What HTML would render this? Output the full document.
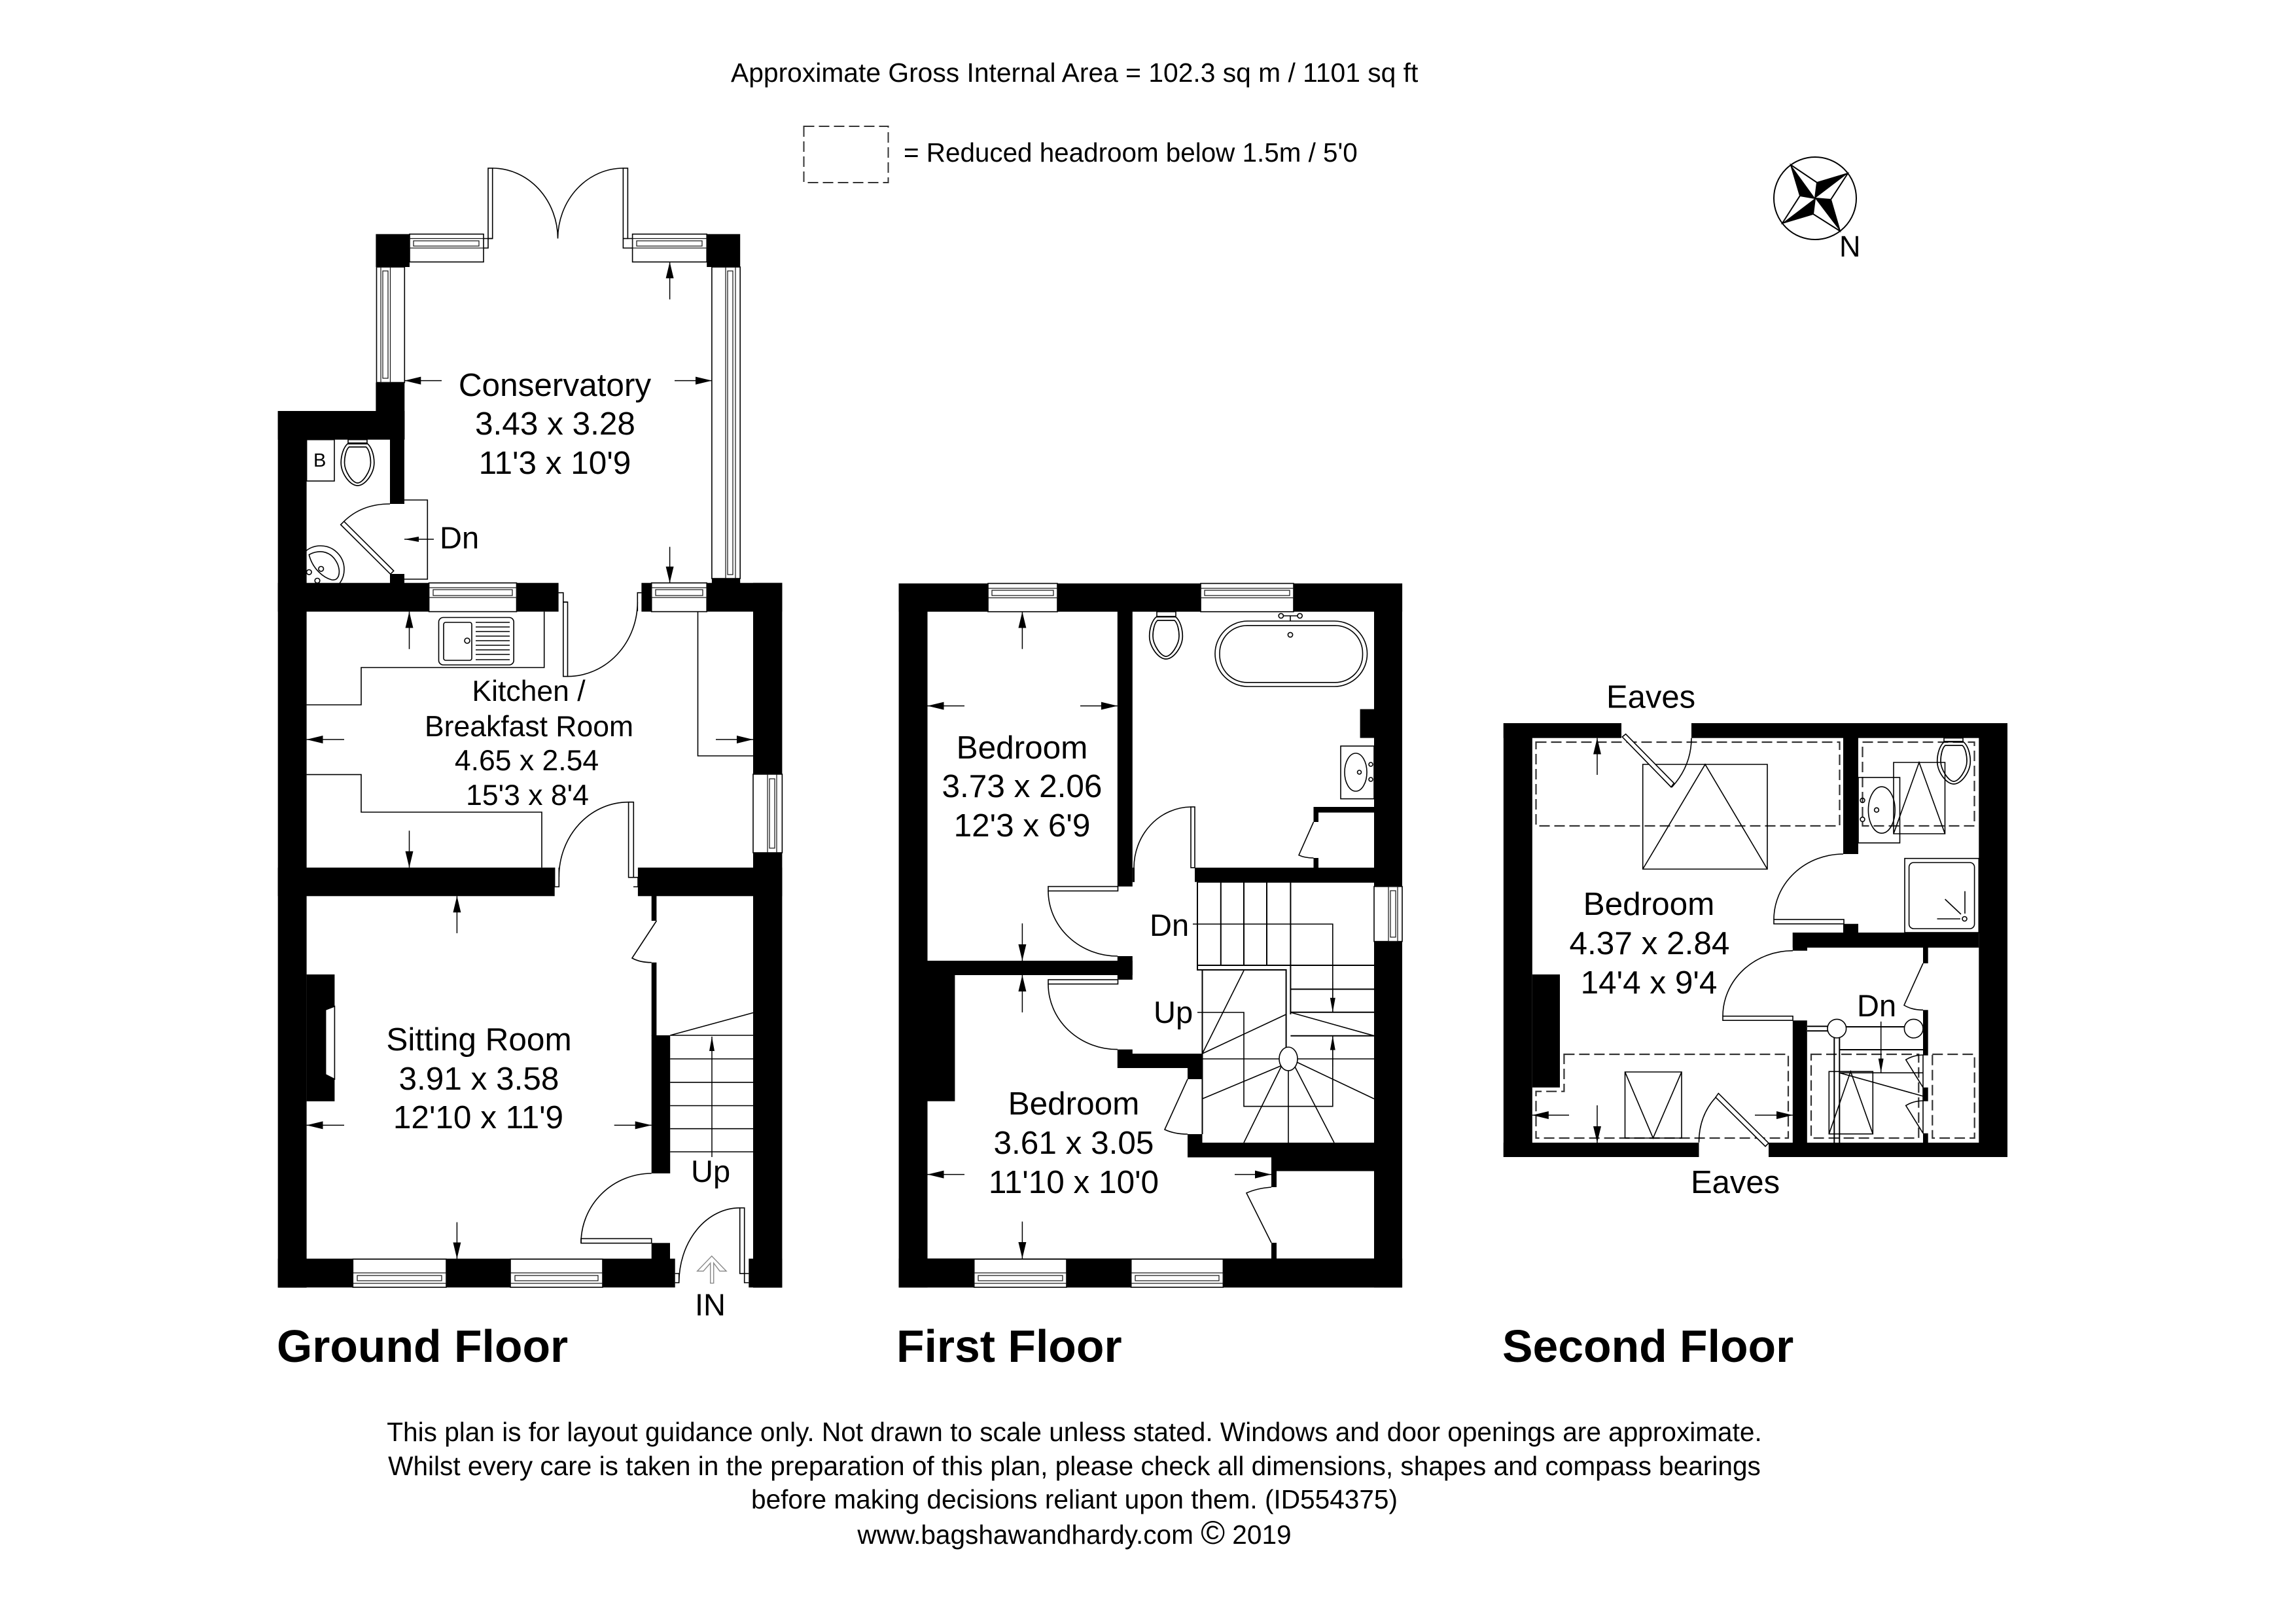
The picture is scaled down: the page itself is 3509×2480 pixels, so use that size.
<!DOCTYPE html>
<html><head><meta charset="utf-8"><title>Floor plan</title>
<style>
html,body{margin:0;padding:0;background:#fff}
svg{display:block}
text{font-family:"Liberation Sans",Arial,sans-serif;fill:#000}
.m{text-anchor:middle}
.n{fill:none;stroke:#000;stroke-width:1.6}
.i{fill:none;stroke:#111;stroke-width:1.2}
.w{fill:#fff;stroke:#000;stroke-width:1.6}
.d{fill:none;stroke:#333;stroke-width:2.2;stroke-dasharray:16 7}
.b{fill:#000}
.ar line,line.ar{stroke:#000;stroke-width:1.5;marker-end:url(#a)}
line.sa{stroke:#000;stroke-width:1.5;marker-end:url(#s)}
</style></head><body>
<svg xmlns="http://www.w3.org/2000/svg" width="3509" height="2480" viewBox="0 0 3509 2480">
<defs>
<marker id="a" markerUnits="userSpaceOnUse" markerWidth="26" markerHeight="14" refX="25" refY="6" orient="auto"><path d="M0 0L25 6L0 12z"/></marker>
<marker id="s" markerUnits="userSpaceOnUse" markerWidth="23" markerHeight="10" refX="22" refY="4" orient="auto"><path d="M0 0L22 4L0 8z"/></marker>
<g id="t" fill="none" stroke="#000" stroke-width="1.7">
<path d="M-14 0H14C22 6 25.3 20 25.3 30C25.3 46 12 65 0 65C-12 65 -25.3 46 -25.3 30C-25.3 20 -22 6 -14 0Z"/>
<path d="M-13 6H13C18 10 20 22 20 30C20 43 8 61 0 61C-8 61 -20 43 -20 30C-20 22 -18 10 -13 6Z"/>
</g>
</defs>
<rect width="3509" height="2480" fill="#fff"/>

<!-- header -->
<text x="1117" y="125" font-size="40.8">Approximate Gross Internal Area = 102.3 sq m / 1101 sq ft</text>
<rect x="1228.5" y="193" width="129" height="86" class="d" style="stroke-width:2"/>
<text x="1381" y="247" font-size="40.4">= Reduced headroom below 1.5m / 5'0</text>

<!-- compass -->
<circle cx="2774" cy="303" r="63" class="n" style="stroke-width:2"/>
<path d="M2737 252L2777 279L2774 303L2751 299ZM2824 265L2798 305L2774 303L2777 279ZM2812 353L2771 327L2774 303L2798 305ZM2724 341L2751 299L2774 303L2771 327Z" class="n" style="stroke-width:2"/>
<path class="b" d="M2737 252L2751 299L2774 303ZM2824 265L2777 279L2774 303ZM2812 353L2798 305L2774 303ZM2724 341L2771 327L2774 303Z"/>
<text x="2811" y="392" font-size="45">N</text>

<!-- ========== GROUND FLOOR ========== -->
<!-- fixtures -->
<ellipse cx="490" cy="870" rx="36" ry="36" class="n"/>
<path d="M472.3 847.7C483 841 505 838 516 862C521 875 518 888 507 886C495 883 478 870 472.3 847.7Z" class="n"/>
<circle cx="472.3" cy="874.3" r="3.8" class="n"/><circle cx="490.7" cy="869.3" r="3.8" class="n"/><circle cx="485" cy="887.3" r="3.8" class="n"/>
<rect x="468.6" y="671.8" width="42.4" height="63.2" class="n"/>
<text x="479" y="713" font-size="29">B</text>
<rect x="532" y="671.8" width="29" height="6.5" class="n"/>
<use href="#t" transform="translate(546.5,677)"/>
<path class="n" d="M618 764H653.3V885H618"/>
<line class="sa" x1="663" y1="824" x2="618" y2="824"/>
<path class="w" d="M520.7 801.7L525.7 796.7L601.7 872.3L596.7 877.3Z"/>
<path class="n" d="M525.7 796.7Q553 770 596 770"/>
<!-- conservatory doors -->
<rect x="746" y="257" width="6.7" height="107.5" class="w"/>
<rect x="952.4" y="257" width="7" height="107.5" class="w"/>
<path class="n" d="M752.7 257A100 108 0 0 1 852.5 364.5A100 108 0 0 1 952.4 257"/>
<path class="n" d="M739 364.5H752.7M746 364.5V379H739M959.5 364.5H966.6M952.4 364.5V379H966.6"/>
<!-- kitchen units -->
<path class="n" d="M831.7 934.6V1020H552V1077H468.6M468.6 1183.6H552V1241H828V1325.7M1066.5 934.6V1155H1151"/>
<rect x="670.5" y="943.5" width="114.7" height="72.5" rx="7" class="n"/>
<rect x="678" y="951" width="43" height="58" rx="3" class="n"/>
<circle cx="714" cy="979" r="4" class="n"/>
<path class="n" d="M727 951H779M727 958H779M727 965H779M727 972H779M727 979H779M727 986H779M727 993H779M727 1000H779M727 1008H779"/>
<!-- kitchen doors -->
<rect x="860.8" y="920" width="6.7" height="113.6" class="w"/>
<path class="n" d="M867.5 1033.6A107 113.6 0 0 0 974.3 920"/>
<path class="n" d="M853.6 905.7H860.8V920H867.5M980.4 905.7H974.3V934"/>
<rect x="960.6" y="1225.7" width="7.7" height="115" class="w"/>
<path class="n" d="M960.6 1225.7H968M960.6 1225.7A106 114 0 0 0 854.3 1340"/>
<path class="n" d="M847.6 1325.7V1355H854.3V1325.7M968.3 1340.7H975V1355H968"/>
<!-- stairs -->
<path class="n" d="M1024.2 1582H1151M1024.2 1618H1151M1024.2 1653.8H1151M1024.2 1689.5H1151M1024.2 1724.7H1151M1024.2 1760H1151M1024.2 1582L1151 1547.5"/>
<line x1="1088" y1="1768" x2="1088" y2="1584" class="sa"/>
<path class="n" d="M1003.4 1407L966 1464Q978 1470.7 995.7 1470.7"/>
<!-- walls -->
<g class="b">
<rect x="424.7" y="628" width="43.9" height="1339.6"/>
<rect x="424.7" y="628" width="193.6" height="43.8"/>
<rect x="574.4" y="584.5" width="43.9" height="87"/>
<rect x="596" y="671" width="22" height="99"/>
<rect x="596" y="877" width="22" height="15"/>
<rect x="424.7" y="890.7" width="231" height="43.9"/>
<rect x="789.5" y="890.7" width="64.1" height="43.9"/>
<rect x="980.4" y="890.7" width="15.3" height="43.9"/>
<rect x="1080.2" y="890.7" width="115.2" height="43.9"/>
<rect x="1151" y="890.7" width="44.4" height="292.2"/>
<rect x="1151" y="1302.9" width="44.4" height="664.7"/>
<rect x="424.7" y="1325.7" width="423" height="43.6"/>
<rect x="974.9" y="1325.7" width="220.5" height="43.6"/>
<rect x="574.4" y="357.7" width="51.6" height="50.3"/>
<rect x="1080.2" y="357.7" width="51" height="50.3"/>
<rect x="1087.9" y="884" width="43.3" height="8"/>
<rect x="468.6" y="1489" width="42.8" height="193.8"/>
<rect x="995.7" y="1369" width="7.7" height="38"/>
<rect x="995.7" y="1470.7" width="7.7" height="112"/>
<rect x="995.7" y="1582" width="28.5" height="211"/>
<rect x="995.7" y="1899.3" width="28.3" height="25"/>
<rect x="424.7" y="1923.3" width="607" height="44"/>
<rect x="1144.3" y="1923.3" width="51" height="44"/>
</g>
<path class="w" d="M497.6 1543L511.4 1537.7V1649L497.6 1642Z"/>
<!-- ground windows -->
<rect x="626" y="357.7" width="113" height="42.6" class="w"/><rect x="626" y="364.5" width="113" height="14.5" class="i"/><rect x="632" y="368" width="100" height="8" class="i"/>
<rect x="966.6" y="357.7" width="113.6" height="42.6" class="w"/><rect x="966.6" y="364.5" width="113.6" height="14.5" class="i"/><rect x="973" y="368" width="100" height="8" class="i"/>
<rect x="575.5" y="408" width="42.8" height="176.5" class="w"/><rect x="582" y="408" width="14.5" height="176.5" class="i"/><rect x="585" y="414" width="8" height="164" class="i"/>
<rect x="1087.9" y="408" width="43.3" height="476" class="w"/><rect x="1109" y="408" width="15" height="476" class="i"/><rect x="1112" y="414" width="8" height="464" class="i"/>
<rect x="655.6" y="890.7" width="133.9" height="43.9" class="w"/><rect x="655.6" y="898" width="133.9" height="15" class="i"/><rect x="662" y="901" width="121" height="9" class="i"/>
<rect x="995.7" y="890.7" width="84.5" height="43.9" class="w"/><rect x="995.7" y="898" width="84.5" height="15" class="i"/><rect x="1002" y="901" width="72" height="9" class="i"/>
<rect x="1151" y="1183" width="44.4" height="120" class="w"/><rect x="1173" y="1183" width="14" height="120" class="i"/><rect x="1176" y="1190" width="8" height="106" class="i"/>
<rect x="539.3" y="1924" width="142.7" height="43" class="w"/><rect x="539.3" y="1945" width="142.7" height="16" class="i"/><rect x="546" y="1949" width="129" height="8" class="i"/>
<rect x="780" y="1924" width="141" height="43" class="w"/><rect x="780" y="1945" width="141" height="16" class="i"/><rect x="787" y="1949" width="127" height="8" class="i"/>
<!-- ground doors bottom -->
<rect x="888" y="1892.6" width="107.7" height="7" class="w"/>
<path class="n" d="M888 1899A108 106 0 0 1 995.7 1793"/>
<rect x="1130.7" y="1845.7" width="7" height="100.3" class="w"/>
<path class="n" d="M1130.7 1845.7A93 114 0 0 0 1037.7 1960"/>
<path class="n" d="M1031.7 1946H1037.7V1960H1031.7M1137.7 1946H1144.3M1137.7 1946V1960H1144.3"/>
<path d="M1087.7 1919.3L1065.7 1942.3H1075L1085.7 1930V1960.7H1090.7V1930L1100 1942.3H1110Z" fill="none" stroke="#888" stroke-width="1.4"/>
<!-- ground arrows -->
<g class="ar">
<line x1="675" y1="581.6" x2="618.3" y2="581.6"/>
<line x1="1031" y1="581.6" x2="1088" y2="581.6"/>
<line x1="1023.6" y1="457.5" x2="1023.6" y2="400.3"/>
<line x1="1023.6" y1="835.6" x2="1023.6" y2="890.7"/>
<line x1="625.5" y1="991.8" x2="625.5" y2="934.6"/>
<line x1="625.5" y1="1269.3" x2="625.5" y2="1325.7"/>
<line x1="526" y1="1130" x2="468.6" y2="1130"/>
<line x1="1094" y1="1130" x2="1151" y2="1130"/>
<line x1="698.4" y1="1426" x2="698.4" y2="1369.3"/>
<line x1="698.4" y1="1867.6" x2="698.4" y2="1923.4"/>
<line x1="526" y1="1719.4" x2="468.6" y2="1719.4"/>
<line x1="938.7" y1="1719.4" x2="995.7" y2="1719.4"/>
</g>
<!-- ground text -->
<g font-size="49.5">
<text class="m" x="848" y="605">Conservatory</text>
<text class="m" x="848.5" y="664">3.43 x 3.28</text>
<text class="m" x="848" y="724">11'3 x 10'9</text>
<text class="m" x="732" y="1605">Sitting Room</text>
<text class="m" x="732" y="1665">3.91 x 3.58</text>
<text class="m" x="731" y="1724">12'10 x 11'9</text>
</g>
<g font-size="44.5">
<text class="m" x="808" y="1071">Kitchen /</text>
<text class="m" x="808.5" y="1125">Breakfast Room</text>
<text class="m" x="805" y="1177">4.65 x 2.54</text>
<text class="m" x="806" y="1230">15'3 x 8'4</text>
</g>
<g font-size="47">
<text x="672" y="838">Dn</text>
<text x="1056" y="1806">Up</text>
<text x="1062" y="2010">IN</text>
</g>
<g font-size="69.7" font-weight="700">
<text x="423" y="2081">Ground Floor</text>
<text x="1370" y="2081">First Floor</text>
<text x="2296" y="2081">Second Floor</text>
</g>

<!-- ========== FIRST FLOOR ========== -->
<!-- stairs -->
<path class="n" d="M1830 1347.7V1482H1965.6V1609M1830 1347.7H2100M1865.8 1347.7V1475M1901 1347.7V1475M1936 1347.7V1475M1972.4 1347.7V1550M1830 1475H2100M1972.4 1511.5H2100M1972.4 1546.7H2100M1972.4 1582.7H2100M1837.5 1482V1733" style="stroke-width:2"/>
<path class="n" d="M1837.5 1610L1901 1483M1837.5 1610L1965.6 1550M1972.4 1547L2100 1582.7M1837.5 1618H1955M1983 1618H2100M1837.5 1679L1958 1628.5M1901 1746L1958 1630M1969 1636V1746M1979 1630L2039 1746M1982 1623L2100 1679"/>
<ellipse cx="1969" cy="1618" rx="14" ry="18" class="w"/>
<path class="n" d="M1823 1412H2036.8V1546.7M1830 1547H1901V1690.6H2036.8V1584"/>
<line class="sa" x1="2036.8" y1="1500" x2="2036.8" y2="1546.7"/>
<line class="sa" x1="2036.8" y1="1630" x2="2036.8" y2="1582.7"/>
<!-- fixtures -->
<rect x="1768" y="934.7" width="29" height="8" class="n"/>
<use href="#t" transform="translate(1782,942)"/>
<rect x="1857" y="949" width="232.5" height="100" rx="50" class="n"/>
<rect x="1864" y="955.8" width="218.5" height="87" rx="42" class="n"/>
<circle cx="1957.8" cy="941" r="3.6" class="n"/><circle cx="1986.6" cy="941" r="3.6" class="n"/>
<path class="n" d="M1961 941H1983M1972 941V949"/>
<circle cx="1972" cy="970" r="3.6" class="n"/>
<rect x="2049" y="1140" width="51" height="80.6" class="n"/>
<ellipse cx="2072" cy="1180" rx="17" ry="29" class="n"/>
<circle cx="2077.5" cy="1180" r="3" class="n"/><circle cx="2095" cy="1168" r="3" class="n"/><circle cx="2095" cy="1191" r="3" class="n"/>
<!-- walls first -->
<g class="b">
<rect x="1373.6" y="891.5" width="769.5" height="43.2"/>
<rect x="1373.6" y="891.5" width="43.9" height="1075.9"/>
<rect x="2100" y="891.5" width="43" height="463"/>
<rect x="2100" y="1438.7" width="43" height="528.7"/>
<rect x="1707.8" y="934" width="23" height="420.6"/>
<rect x="1730.8" y="1325.8" width="3.2" height="22"/>
<rect x="1826" y="1325.8" width="274" height="21.9"/>
<rect x="1417" y="1468" width="313.8" height="22"/>
<rect x="1707.8" y="1461" width="23" height="36"/>
<rect x="1417" y="1489" width="42.4" height="193.7"/>
<rect x="1707.8" y="1603.6" width="23" height="28.4"/>
<rect x="1730" y="1610" width="107.5" height="22"/>
<rect x="1815" y="1630" width="22.5" height="19"/>
<rect x="1815" y="1733" width="22.5" height="14"/>
<rect x="1815" y="1746" width="285" height="22.5"/>
<rect x="1943" y="1768" width="157" height="21.5"/>
<rect x="1943" y="1789" width="8" height="25"/>
<rect x="1943" y="1899" width="8" height="25"/>
<rect x="1373.6" y="1923" width="769.5" height="44.4"/>
<rect x="2078.6" y="1083.6" width="21.4" height="44"/>
<rect x="2007.5" y="1233" width="7.5" height="23"/>
<rect x="2007.5" y="1233" width="92.5" height="8.6"/>
<rect x="2007.5" y="1311" width="7.5" height="15"/>
</g>
<!-- first windows -->
<rect x="1510" y="891.5" width="106" height="43.2" class="w"/><rect x="1510" y="899" width="106" height="14.5" class="i"/><rect x="1516" y="902" width="94" height="8" class="i"/>
<rect x="1835" y="891.5" width="142" height="43.2" class="w"/><rect x="1835" y="899" width="142" height="14.5" class="i"/><rect x="1841" y="902" width="130" height="8" class="i"/>
<rect x="2100" y="1354.6" width="43" height="84" class="w"/><rect x="2122" y="1354.6" width="14" height="84" class="i"/><rect x="2125" y="1361" width="8" height="71" class="i"/>
<rect x="1488.7" y="1924" width="141.3" height="43" class="w"/><rect x="1488.7" y="1945" width="141.3" height="16" class="i"/><rect x="1495" y="1949" width="129" height="8" class="i"/>
<rect x="1728.7" y="1924" width="140.7" height="43" class="w"/><rect x="1728.7" y="1945" width="140.7" height="16" class="i"/><rect x="1735" y="1949" width="128" height="8" class="i"/>
<!-- first doors -->
<rect x="1820" y="1233" width="6" height="92.8" class="w"/>
<path class="n" d="M1820 1233A88 93 0 0 0 1733 1326"/>
<rect x="1602" y="1354.6" width="106.5" height="6.8" class="w"/>
<path class="n" d="M1602 1361A106 100 0 0 0 1708 1461"/>
<rect x="1602" y="1497" width="106.5" height="6.6" class="w"/>
<path class="n" d="M1602 1503.6A106 100 0 0 0 1708 1603.6"/>
<path class="n" d="M2007.5 1256L1985 1306.7Q1994 1311 2007.5 1311M1815 1649L1780 1726Q1795 1733 1815 1733M1943 1814Q1920 1816 1905 1823L1943 1899"/>
<!-- first arrows -->
<g class="ar">
<line x1="1562.4" y1="991.7" x2="1562.4" y2="934.7"/>
<line x1="1474" y1="1078.6" x2="1417.5" y2="1078.6"/>
<line x1="1651" y1="1078.6" x2="1707.8" y2="1078.6"/>
<line x1="1562.4" y1="1411" x2="1562.4" y2="1468"/>
<line x1="1562.4" y1="1547" x2="1562.4" y2="1490"/>
<line x1="1474" y1="1794.6" x2="1417.5" y2="1794.6"/>
<line x1="1887" y1="1794.6" x2="1943" y2="1794.6"/>
<line x1="1562.4" y1="1866.6" x2="1562.4" y2="1923"/>
</g>
<g font-size="49.5">
<text class="m" x="1562" y="1159">Bedroom</text>
<text class="m" x="1562" y="1218">3.73 x 2.06</text>
<text class="m" x="1562" y="1278">12'3 x 6'9</text>
<text class="m" x="1641" y="1703">Bedroom</text>
<text class="m" x="1641" y="1763">3.61 x 3.05</text>
<text class="m" x="1641" y="1823">11'10 x 10'0</text>
<text x="2455" y="1081.7" font-size="49">Eaves</text>
<text x="2584" y="1823" font-size="49">Eaves</text>
<text class="m" x="2520" y="1398">Bedroom</text>
<text class="m" x="2521" y="1458">4.37 x 2.84</text>
<text class="m" x="2520" y="1518">14'4 x 9'4</text>
</g>
<g font-size="47">
<text x="1757" y="1430">Dn</text>
<text x="1763" y="1563">Up</text>
<text x="2838" y="1553">Dn</text>
</g>

<!-- ========== SECOND FLOOR ========== -->
<rect x="2347.5" y="1134" width="464" height="128" class="d"/>
<rect x="2846.5" y="1134" width="171" height="128" class="d"/>
<rect x="2768" y="1611" width="164.3" height="128" class="d"/>
<rect x="2953.3" y="1611" width="64.4" height="128" class="d"/>
<path class="d" d="M2390.4 1611H2733V1739H2347.5V1667.7H2390.4Z"/>
<path class="n" d="M2510.7 1168H2701V1328H2510.7ZM2510.7 1328L2606 1168L2701 1328M2483.5 1638H2570V1739H2483.5ZM2483.5 1638L2526.4 1739L2570 1638"/>
<rect x="2971" y="1127.7" width="29" height="6" class="n"/>
<use href="#t" transform="translate(2986,1133)"/>
<rect x="2840" y="1188" width="63.5" height="100" class="n"/>
<ellipse cx="2875.8" cy="1237.7" rx="20.4" ry="35.5" class="n"/>
<circle cx="2868" cy="1237.7" r="3.4" class="n"/><circle cx="2846.5" cy="1223" r="3.4" class="n"/><circle cx="2846.5" cy="1252" r="3.4" class="n"/>
<path class="n" d="M2894 1165H2972.5V1274H2894ZM2894 1274L2933 1165L2972.5 1274"/>
<rect x="2911" y="1311.7" width="113.3" height="113.3" class="n"/>
<rect x="2917.6" y="1318" width="100" height="101" rx="7" class="n"/>
<circle cx="3002.5" cy="1404" r="3.5" class="n"/>
<path class="n" d="M3003 1361.7V1396M2972.6 1374L2997 1397M2960.5 1404H2996"/>
<!-- landing bits -->
<path class="n" d="M2762 1568.3H2793M2762 1575.3H2793M2821.7 1569H2910.7M2803.3 1586V1746M2811.3 1586V1746M2811.3 1604H2939" style="stroke-width:2"/>
<path class="n" d="M2811.3 1639.3H2939M2811.3 1639.3L2939 1675M2939 1612V1732"/>
<ellipse cx="2807.3" cy="1571.7" rx="14.3" ry="14.3" class="w"/><ellipse cx="2924.7" cy="1571.7" rx="14.3" ry="14.3" class="w"/>
<path class="n" d="M2795.3 1637.3H2862.3V1732.7H2795.3ZM2795.3 1732.7L2828.3 1637.3L2862.3 1732.7"/>
<line class="sa" x1="2874.7" y1="1561" x2="2874.7" y2="1639.3"/>
<!-- walls second -->
<g class="b">
<rect x="2297.8" y="1105" width="180.2" height="22.7"/>
<rect x="2585" y="1105" width="483" height="22.7"/>
<rect x="2297.8" y="1105" width="44" height="663"/>
<rect x="3024.3" y="1105" width="43.7" height="663"/>
<rect x="2297.8" y="1746" width="298.7" height="22"/>
<rect x="2703" y="1746" width="365" height="22"/>
<rect x="2341.8" y="1489" width="42.2" height="172.7"/>
<rect x="2817" y="1127" width="23" height="178"/>
<rect x="2817" y="1411.7" width="23" height="14"/>
<rect x="2739.8" y="1425" width="284.5" height="23"/>
<rect x="2739.8" y="1425" width="22.2" height="27.7"/>
<rect x="2739.8" y="1559.3" width="22" height="187"/>
<rect x="2939" y="1448" width="7.7" height="24"/>
<rect x="2939" y="1543.3" width="7.7" height="69.4"/>
<rect x="2939" y="1661.7" width="7.7" height="21"/>
<rect x="2939" y="1731.7" width="7.7" height="14.3"/>
</g>
<!-- second doors -->
<path class="w" d="M2479.3 1126L2484.6 1121.7L2558.3 1196.7L2554 1202.7Z"/>
<path class="n" d="M2555 1203Q2585 1170 2585 1127.7"/>
<path class="w" d="M2626.3 1670.7L2703 1746.7L2698 1751.7L2622 1676.7Z"/>
<path class="n" d="M2622 1677Q2596.5 1705 2596.5 1745.7"/>
<rect x="2711" y="1405" width="107" height="6.7" class="w"/>
<path class="n" d="M2711 1405A106 100 0 0 1 2817 1305"/>
<rect x="2633" y="1552.7" width="107" height="6.5" class="w"/>
<path class="n" d="M2633 1552.7A107 100 0 0 1 2740 1452.7"/>
<path class="n" d="M2939 1472L2910 1536Q2922 1543.3 2939 1543.3M2939 1612Q2925 1612 2912.7 1619.3L2939 1661.7M2939 1682Q2925 1682 2912.7 1689.3L2939 1731.7"/>
<g class="ar">
<line x1="2441" y1="1184" x2="2441" y2="1127.7"/>
<line x1="2398" y1="1704" x2="2341.8" y2="1704"/>
<line x1="2682" y1="1704" x2="2739.8" y2="1704"/>
<line x1="2441" y1="1689" x2="2441" y2="1746"/>
</g>

<!-- footer -->
<g font-size="40.6">
<text class="m" x="1642" y="2202">This plan is for layout guidance only. Not drawn to scale unless stated. Windows and door openings are approximate.</text>
<text class="m" x="1642" y="2254">Whilst every care is taken in the preparation of this plan, please check all dimensions, shapes and compass bearings</text>
<text class="m" x="1642" y="2305">before making decisions reliant upon them. (ID554375)</text>
<text class="m" x="1642" y="2359">www.bagshawandhardy.com <tspan font-size="50">©</tspan> 2019</text>
</g>
</svg>
</body></html>
